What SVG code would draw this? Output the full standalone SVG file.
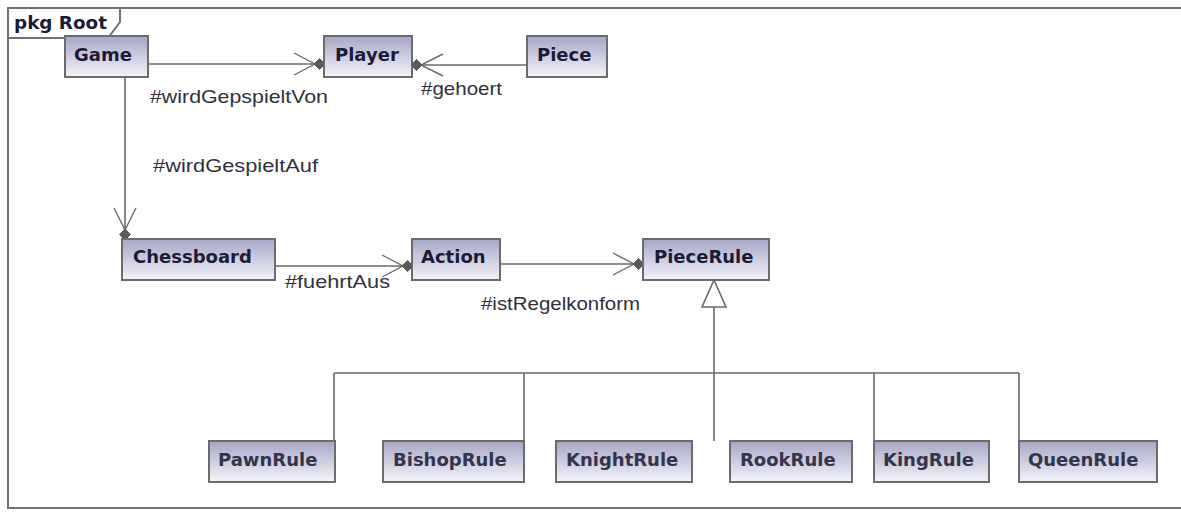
<svg xmlns="http://www.w3.org/2000/svg" width="1181" height="512" viewBox="0 0 1181 512">
  <defs>
    <linearGradient id="boxFill" x1="0" y1="0" x2="0" y2="1">
      <stop offset="0" stop-color="#a6a6c6"/>
      <stop offset="1" stop-color="#f4f4fa"/>
    </linearGradient>
    <style>
      .frame { fill: none; stroke: #707070; stroke-width: 2; }
      .box { fill: url(#boxFill); stroke: #6c6c6c; stroke-width: 2; }
      .name { font-family: "DejaVu Sans", Verdana, sans-serif; font-weight: bold; font-size: 18px; fill: #1c1c38; }
      .sub { font-family: "DejaVu Sans", Verdana, sans-serif; font-weight: bold; font-size: 18px; fill: #34344a; }
      .lbl { font-family: "Liberation Sans", Arial, sans-serif; font-size: 18.5px; fill: #303040; }
      .edge { fill: none; stroke: #6a6a6a; stroke-width: 1.6; }
      .arm { fill: none; stroke: #6a6a6a; stroke-width: 1.4; }
      .dia { fill: #5a5a5a; stroke: #5a5a5a; stroke-width: 1; }
      .tri { fill: #ffffff; stroke: #6a6a6a; stroke-width: 1.6; }
    </style>
  </defs>

  <rect width="1181" height="512" fill="#ffffff"/>

  <!-- package frame -->
  <g id="pkg-root">
    <path class="frame" d="M1183,8 H8 V508 H1183"/>
    <path class="frame" d="M8,38 H108 L120,22 V8"/>
    <text class="name" x="14" y="29" font-size="17" textLength="93" lengthAdjust="spacingAndGlyphs">pkg Root</text>
  </g>

  <!-- connectors -->
  <g id="connectors">
    <!-- Game -> Player : wirdGepspieltVon -->
    <line class="edge" x1="148" y1="64" x2="314" y2="64"/>
    <polyline class="arm" points="294,53 315,64 294,75"/>
    <polygon class="dia" points="325,64 319.5,58.5 314,64 319.5,69.5"/>
    <text class="lbl" x="150" y="103" textLength="178" lengthAdjust="spacingAndGlyphs">#wirdGepspieltVon</text>

    <!-- Piece -> Player : gehoert -->
    <line class="edge" x1="527" y1="65" x2="422" y2="65"/>
    <polyline class="arm" points="443,54 421,65 443,76"/>
    <polygon class="dia" points="411,65 416.5,59.5 422,65 416.5,70.5"/>
    <text class="lbl" x="421" y="95" textLength="81" lengthAdjust="spacingAndGlyphs">#gehoert</text>

    <!-- Game -> Chessboard : wirdGespieltAuf -->
    <line class="edge" x1="125" y1="77" x2="125" y2="229"/>
    <polyline class="arm" points="114,208 125,230 136,208"/>
    <polygon class="dia" points="125,240 119.5,234.5 125,229 130.5,234.5"/>
    <text class="lbl" x="153" y="172" textLength="165" lengthAdjust="spacingAndGlyphs">#wirdGespieltAuf</text>

    <!-- Chessboard -> Action : fuehrtAus -->
    <line class="edge" x1="275" y1="266" x2="402" y2="266"/>
    <polyline class="arm" points="382,255 403,266 382,277"/>
    <polygon class="dia" points="413,266 407.5,260.5 402,266 407.5,271.5"/>
    <text class="lbl" x="285" y="288" textLength="105" lengthAdjust="spacingAndGlyphs">#fuehrtAus</text>

    <!-- Action -> PieceRule : istRegelkonform -->
    <line class="edge" x1="500" y1="264" x2="633" y2="264"/>
    <polyline class="arm" points="613,253 634,264 613,275"/>
    <polygon class="dia" points="644,264 638.5,258.5 633,264 638.5,269.5"/>
    <text class="lbl" x="481" y="310" textLength="159" lengthAdjust="spacingAndGlyphs">#istRegelkonform</text>

    <!-- generalization tree -->
    <path class="edge" d="M714,307 V441 M334,373 H1019 M334,373 V441 M524,373 V441 M874,373 V441 M1019,373 V441"/>
    <polygon class="tri" points="714,280 726,307 702,307"/>
  </g>

  <!-- classes -->
  <g id="Game">
    <rect class="box" x="65" y="36" width="83" height="41"/>
    <text class="name" x="74" y="61">Game</text>
  </g>
  <g id="Player">
    <rect class="box" x="324" y="36" width="88" height="41"/>
    <text class="name" x="335" y="61">Player</text>
  </g>
  <g id="Piece">
    <rect class="box" x="527" y="36" width="80" height="41"/>
    <text class="name" x="537" y="61">Piece</text>
  </g>
  <g id="Chessboard">
    <rect class="box" x="122" y="239" width="153" height="41"/>
    <text class="name" x="133" y="263">Chessboard</text>
  </g>
  <g id="Action">
    <rect class="box" x="412" y="239" width="88" height="41"/>
    <text class="name" x="421" y="263">Action</text>
  </g>
  <g id="PieceRule">
    <rect class="box" x="643" y="239" width="126" height="41"/>
    <text class="name" x="654" y="263">PieceRule</text>
  </g>
  <g id="PawnRule">
    <rect class="box" x="209" y="441" width="126" height="41"/>
    <text class="sub" x="218" y="466">PawnRule</text>
  </g>
  <g id="BishopRule">
    <rect class="box" x="383" y="441" width="141" height="41"/>
    <text class="sub" x="393" y="466">BishopRule</text>
  </g>
  <g id="KnightRule">
    <rect class="box" x="556" y="441" width="136" height="41"/>
    <text class="sub" x="566" y="466">KnightRule</text>
  </g>
  <g id="RookRule">
    <rect class="box" x="730" y="441" width="122" height="41"/>
    <text class="sub" x="740" y="466">RookRule</text>
  </g>
  <g id="KingRule">
    <rect class="box" x="874" y="441" width="115" height="41"/>
    <text class="sub" x="883" y="466">KingRule</text>
  </g>
  <g id="QueenRule">
    <rect class="box" x="1019" y="441" width="138" height="41"/>
    <text class="sub" x="1028" y="466">QueenRule</text>
  </g>
</svg>
